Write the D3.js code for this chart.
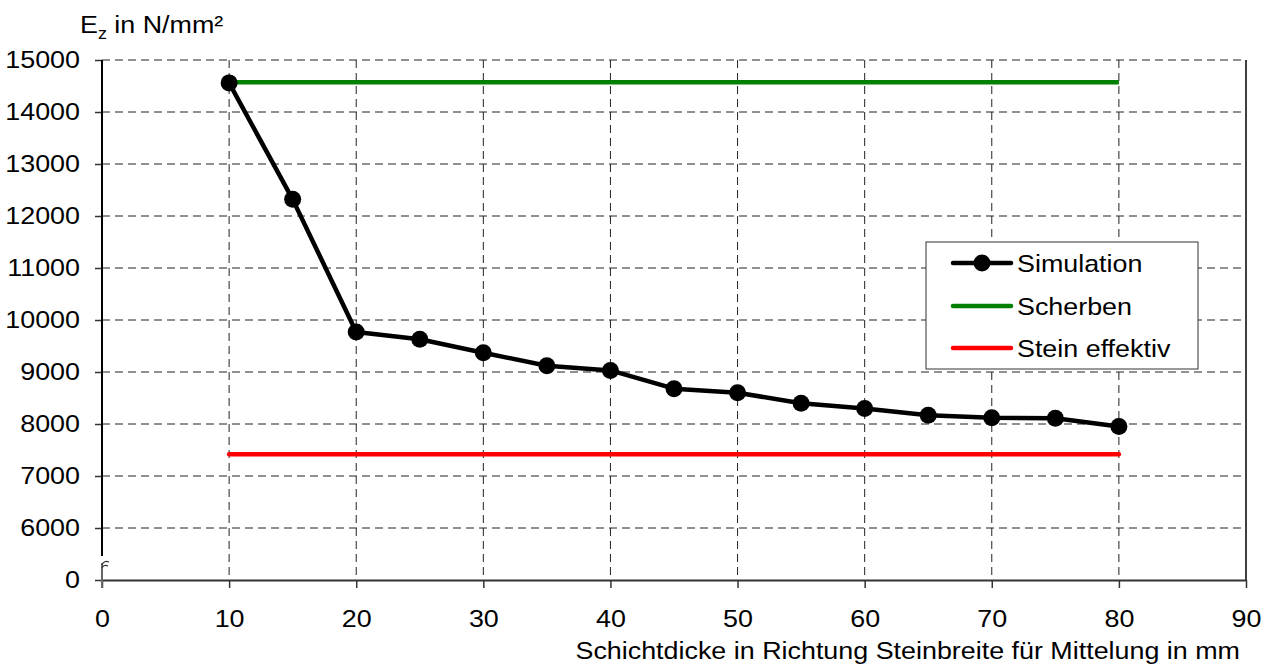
<!DOCTYPE html>
<html>
<head>
<meta charset="utf-8">
<script src="https://cdn.jsdelivr.net/npm/d3@7/dist/d3.min.js"></script>
<style>
  html, body { margin: 0; padding: 0; background: #fff; }
  svg text { font-family: "Liberation Sans", Arial, sans-serif; fill: #000; }
</style>
</head>
<body>
<svg id="chart" width="1271" height="668"></svg>
<script>
// Layer thickness used for averaging (mm)
const thickness = [10, 15, 20, 25, 30, 35, 40, 45, 50, 55, 60, 65, 70, 75, 80];
// Simulated modulus E_z (N/mm²)
const simulation = [14560, 12320, 9770, 9630, 9370, 9120, 9030, 8680, 8600, 8400, 8300, 8170, 8120, 8110, 7950];
// Reference levels
const scherben = 14570;
const steinEffektiv = 7420;
const refRange = [10, 80];

const xTicks = [0, 10, 20, 30, 40, 50, 60, 70, 80, 90];
const yTicks = [0, 6000, 7000, 8000, 9000, 10000, 11000, 12000, 13000, 14000, 15000];
const yGrid = [6000, 7000, 8000, 9000, 10000, 11000, 12000, 13000, 14000, 15000];

const legendLabels = ["Simulation", "Scherben", "Stein effektiv"];
const colors = { sim: "#000000", scherben: "#008000", stein: "#ff0000" };

const svg = d3.select("#chart");
const plotLeft = 102, plotRight = 1246, plotTop = 60, plotBottom = 580;

const x = d3.scaleLinear().domain([0, 90]).range([plotLeft, plotRight]);
// Broken value axis: the span 0–5000 is collapsed at the bottom
const y = d3.scaleLinear().domain([0, 5000, 15000]).range([plotBottom, plotBottom, plotTop]);

const fontSize = 24;
const widen = 1.12; // glyphs are drawn slightly wider than the font's natural width

// widen a text element horizontally around its own x anchor
function stretch(sel) {
  sel.each(function () {
    const t = d3.select(this);
    const ax = +t.attr("x") || 0;
    t.attr("transform", `translate(${ax},0) scale(${widen},1) translate(${-ax},0)`);
  });
}

// Grid lines
const grid = svg.append("g");
grid.selectAll("line.h").data(yGrid).join("line")
  .attr("x1", plotLeft).attr("x2", plotRight)
  .attr("y1", d => y(d)).attr("y2", d => y(d))
  .attr("stroke", "#222").attr("stroke-width", 1).attr("stroke-dasharray", "8,5");
grid.selectAll("line.v").data(xTicks.filter(d => d > 0 && d < 90)).join("line")
  .attr("x1", d => x(d)).attr("x2", d => x(d))
  .attr("y1", plotTop).attr("y2", plotBottom)
  .attr("stroke", "#222").attr("stroke-width", 1).attr("stroke-dasharray", "8,5");

// Right border
svg.append("line").attr("x1", plotRight).attr("x2", plotRight).attr("y1", plotTop).attr("y2", plotBottom)
  .attr("stroke", "#000").attr("stroke-width", 1.5);

// X axis
const xAxis = svg.append("g").attr("transform", `translate(0,${plotBottom})`)
  .call(d3.axisBottom(x).tickValues(xTicks).tickSize(8).tickPadding(22).tickSizeOuter(0));
xAxis.select(".domain").attr("stroke", "#333").attr("stroke-width", 2);
xAxis.selectAll(".tick line").attr("stroke", "#333").attr("stroke-width", 1.5);
xAxis.selectAll(".tick text").attr("font-size", fontSize).attr("font-family", "Liberation Sans, Arial, sans-serif").call(stretch);

// Y axis (labels and ticks; the axis line is drawn separately because of the break)
const yAxis = svg.append("g").attr("transform", `translate(${plotLeft},0)`)
  .call(d3.axisLeft(y).tickValues(yTicks).tickSize(7).tickPadding(15).tickFormat(d3.format("d")));
yAxis.select(".domain").remove();
yAxis.selectAll(".tick line").attr("stroke", "#333").attr("stroke-width", 1.5);
yAxis.selectAll(".tick text").attr("font-size", fontSize).attr("font-family", "Liberation Sans, Arial, sans-serif").call(stretch);

// Y axis line with break
svg.append("line").attr("x1", plotLeft).attr("x2", plotLeft).attr("y1", plotTop).attr("y2", plotBottom - 24)
  .attr("stroke", "#000").attr("stroke-width", 2);
svg.append("line").attr("x1", plotLeft).attr("x2", plotLeft).attr("y1", plotBottom - 17).attr("y2", plotBottom + 8)
  .attr("stroke", "#666").attr("stroke-width", 2);
svg.append("path")
  .attr("d", `M${plotLeft},${plotBottom - 15} Q${plotLeft + 2},${plotBottom - 20} ${plotLeft + 7},${plotBottom - 18} M${plotLeft},${plotBottom - 12} Q${plotLeft + 2},${plotBottom - 16} ${plotLeft + 6},${plotBottom - 14}`)
  .attr("fill", "none").attr("stroke", "#333").attr("stroke-width", 1.2);

// Reference lines
svg.append("line").attr("x1", x(refRange[0])).attr("x2", x(refRange[1]))
  .attr("y1", y(scherben)).attr("y2", y(scherben))
  .attr("stroke", colors.scherben).attr("stroke-width", 4.5);
svg.append("line").attr("x1", x(refRange[0])).attr("x2", x(refRange[1]))
  .attr("y1", y(steinEffektiv)).attr("y2", y(steinEffektiv))
  .attr("stroke", colors.stein).attr("stroke-width", 4.5).attr("stroke-linecap", "round");

// Simulation series
const simData = thickness.map((t, i) => ({ t, v: simulation[i] }));
svg.append("path").datum(simData)
  .attr("d", d3.line().x(d => x(d.t)).y(d => y(d.v)))
  .attr("fill", "none").attr("stroke", colors.sim).attr("stroke-width", 4.5).attr("stroke-linejoin", "round");
svg.selectAll("circle.pt").data(simData).join("circle")
  .attr("cx", d => x(d.t)).attr("cy", d => y(d.v)).attr("r", 8.5).attr("fill", colors.sim);

// Axis titles
const yTitle = svg.append("text").attr("x", 80).attr("y", 33).attr("font-size", fontSize);
yTitle.append("tspan").text("E");
yTitle.append("tspan").text("z").attr("font-size", 16).attr("dy", 6);
yTitle.append("tspan").text(" in N/mm²").attr("dy", -6);
yTitle.call(stretch);

svg.append("text").attr("x", 1240).attr("y", 659).attr("text-anchor", "end")
  .attr("font-size", fontSize).text("Schichtdicke in Richtung Steinbreite für Mittelung in mm").call(stretch);

// Legend
const lg = svg.append("g");
lg.append("rect").attr("x", 926).attr("y", 242).attr("width", 272).attr("height", 127)
  .attr("fill", "#fff").attr("stroke", "#333").attr("stroke-width", 1);
const legendColors = [colors.sim, colors.scherben, colors.stein];
const ly = [263, 306, 348];
legendLabels.forEach((lab, i) => {
  lg.append("line").attr("x1", 953).attr("x2", 1011).attr("y1", ly[i]).attr("y2", ly[i])
    .attr("stroke", legendColors[i]).attr("stroke-width", 4.5).attr("stroke-linecap", "round");
  if (i === 0) lg.append("circle").attr("cx", 982).attr("cy", ly[i]).attr("r", 8.5).attr("fill", colors.sim);
  lg.append("text").attr("x", 1017).attr("y", ly[i] + 9).attr("font-size", fontSize).text(lab).call(stretch);
});
</script>
</body>
</html>
